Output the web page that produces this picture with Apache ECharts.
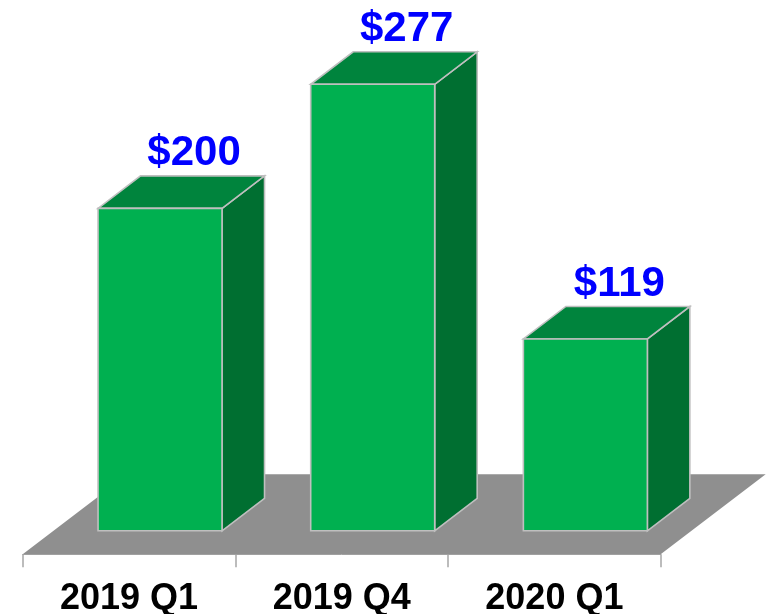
<!DOCTYPE html>
<html>
<head>
<meta charset="utf-8">
<script src="https://cdn.jsdelivr.net/npm/echarts@6/dist/echarts.min.js"></script>
<style>
    html, body { margin: 0; padding: 0; background: #fff; }
    #chart { width: 768px; height: 614px; }
</style>
</head>
<body>
<div id="chart"></div>
<script>
// 数据
const categories = ['2019 Q1', '2019 Q4', '2020 Q1'];
const revenue = [200, 277, 119];

// 伪3D参数（像素）
const FLOOR_DX = 105, FLOOR_DY = -80;   // 地板深度
const SHIFT_X = 31, SHIFT_Y = -23.5;    // 柱子正面相对地板前沿的偏移
const DEPTH_DX = 42.5, DEPTH_DY = -32.5; // 柱子厚度
const BAR_RATIO = 0.583;

const FRONT = '#00B050';
const TOP = '#00843D';
const SIDE = '#006F31';
const EDGE = '#BFBFBF';

// 地板
function renderFloor(params, api) {
    const cs = params.coordSys;
    const y = api.coord([0, 0])[1];
    const x0 = cs.x, x1 = cs.x + cs.width;
    return {
        type: 'polygon',
        shape: { points: [[x0, y], [x1, y], [x1 + FLOOR_DX, y + FLOOR_DY], [x0 + FLOOR_DX, y + FLOOR_DY]] },
        style: { fill: '#8F8F8F' }
    };
}

// 3D柱子
function renderBar(params, api) {
    const idx = api.value(0);
    const val = api.value(1);
    const band = api.size([1, 0])[0];
    const base = api.coord([idx, 0]);
    const top = api.coord([idx, val]);
    const w = band * BAR_RATIO;
    const x0 = base[0] - w / 2 + SHIFT_X;
    const x1 = x0 + w;
    const yb = base[1] + SHIFT_Y;
    const yt = top[1] + SHIFT_Y;
    const edge = { stroke: EDGE, lineWidth: 1.6 };
    return {
        type: 'group',
        children: [
            {
                type: 'polygon',
                shape: { points: [[x1, yb], [x1 + DEPTH_DX, yb + DEPTH_DY], [x1 + DEPTH_DX, yt + DEPTH_DY], [x1, yt]] },
                style: Object.assign({ fill: SIDE }, edge)
            },
            {
                type: 'polygon',
                shape: { points: [[x0, yt], [x1, yt], [x1 + DEPTH_DX, yt + DEPTH_DY], [x0 + DEPTH_DX, yt + DEPTH_DY]] },
                style: Object.assign({ fill: TOP }, edge)
            },
            {
                type: 'rect',
                shape: { x: x0, y: yt, width: w, height: yb - yt },
                style: Object.assign({ fill: FRONT }, edge)
            },
            {
                type: 'text',
                style: {
                    text: '$' + val,
                    x: (x0 + x1) / 2 + 34,
                    y: yt + DEPTH_DY - 22.5,
                    align: 'center',
                    verticalAlign: 'middle',
                    fill: '#0000FF',
                    fontSize: 42,
                    fontWeight: 'bold',
                    fontFamily: '"Liberation Sans", Arial, sans-serif'
                }
            }
        ]
    };
}

const chart = echarts.init(document.getElementById('chart'));

const option = {
    animation: false,
    grid: { left: 22.7, right: 107.3, top: 70.7, bottom: 59.7, outerBoundsMode: 'none', containLabel: false },
    xAxis: {
        type: 'category',
        data: categories,
        axisLine: { show: true, lineStyle: { color: '#A6A6A6', width: 1 } },
        axisTick: { show: true, length: 13, lineStyle: { color: '#A6A6A6', width: 1.5 } },
        axisLabel: {
            margin: 27,
            color: '#000',
            fontSize: 36,
            fontWeight: 'bold',
            fontFamily: '"Liberation Sans", Arial, sans-serif'
        }
    },
    yAxis: {
        type: 'value',
        min: 0,
        max: 300,
        show: false,
        splitLine: { show: false }
    },
    series: [
        {
            type: 'custom',
            renderItem: renderFloor,
            data: [[0, 0]],
            silent: true,
            z: 1
        },
        {
            type: 'custom',
            renderItem: renderBar,
            encode: { x: 0, y: 1 },
            data: revenue.map((v, i) => [i, v]),
            z: 2
        }
    ]
};

chart.setOption(option);
</script>
</body>
</html>
